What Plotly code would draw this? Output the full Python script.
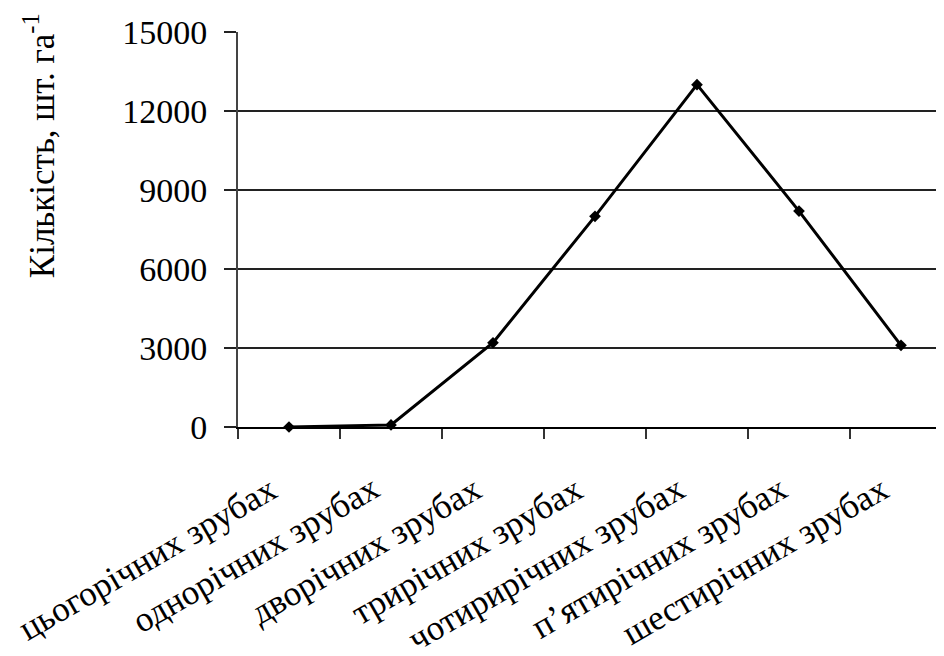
import plotly.graph_objects as go

categories = ["цьогорічних зрубах", "однорічних зрубах", "дворічних зрубах",
              "трирічних зрубах", "чотирирічних зрубах", "п’ятирічних зрубах",
              "шестирічних зрубах"]
values = [0, 80, 3200, 8000, 13000, 8200, 3100]
y_ticks = [0, 3000, 6000, 9000, 12000, 15000]
y_title = "Кількість, шт. га<sup>-1</sup>"

FONT = "Liberation Serif, Times New Roman, serif"

fig = go.Figure()
fig.add_trace(go.Scatter(
    x=categories, y=values, mode="lines+markers",
    line=dict(color="black", width=3),
    marker=dict(symbol="diamond", size=9, color="black"),
    cliponaxis=False, showlegend=False,
))

annotations = [dict(
    text=y_title, textangle=-90, xref="paper", yref="paper",
    x=-0.2787, y=0.711, xanchor="center", yanchor="middle",
    showarrow=False, font=dict(family=FONT, size=35, color="black"),
)]
for c in categories:
    annotations.append(dict(
        text=c, textangle=-30, xref="x", yref="y", x=c, y=0,
        xanchor="right", yanchor="top", xshift=-4, yshift=-40,
        showarrow=False, borderpad=0,
        font=dict(family=FONT, size=35, color="black"),
    ))

fig.update_layout(
    width=944, height=656,
    margin=dict(l=230, r=0, t=24, b=237),
    paper_bgcolor="white", plot_bgcolor="white",
    font=dict(family=FONT, color="black"),
    xaxis=dict(
        type="category", range=[-0.5, 6.5], automargin=False,
        tickson="boundaries", ticks="outside", ticklen=10, tickwidth=1.5,
        tickcolor="#333", showticklabels=False, showgrid=False,
        showline=True, linecolor="black", linewidth=1.5,
    ),
    yaxis=dict(
        range=[0, 15000], tickvals=y_ticks, ticktext=[str(v) for v in y_ticks],
        automargin=False,
        showgrid=True, gridcolor="#222", gridwidth=1.5,
        zeroline=True, zerolinecolor="black", zerolinewidth=1.5,
        ticks="outside", ticklen=12, tickwidth=1.5, tickcolor="#222",
        showline=True, linecolor="#444", linewidth=2,
        tickfont=dict(family=FONT, size=34, color="black"),
        ticklabelstandoff=10,
    ),
    annotations=annotations,
)

fig.write_html("out.html")
